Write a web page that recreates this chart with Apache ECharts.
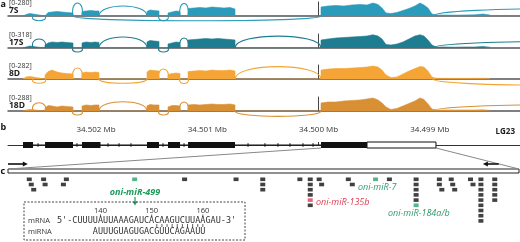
<!DOCTYPE html>
<html>
<head>
<meta charset="utf-8">
<script src="https://cdn.jsdelivr.net/npm/echarts@6/dist/echarts.min.js"></script>
<style>
html, body { margin: 0; padding: 0; background: #fff; }
#chart { width: 520px; height: 242px; }
</style>
</head>
<body>
<div id="chart"></div>
<script>
// positions are bp relative to LG23:34,500,000
var trackNames = ['7S', '17S', '8D', '18D'];
var trackMax = [280, 318, 282, 288];
var trackColors = ['#2a9bba', '#1e7d90', '#f5a536', '#d99035'];

// coverage sample positions, one list per exon
var covPos = [
    [2656, 2629, 2593, 2566],
    [2458, 2431, 2395, 2350, 2306, 2261, 2207],
    [2126, 2090, 2045, 2009, 1973],
    [1542, 1515, 1479, 1434],
    [1353, 1317, 1281, 1245],
    [1173, 1120, 1066, 1012, 958, 904, 851, 796, 751],
    [-22, -84, -156, -228, -300, -372, -435, -489, -534, -570, -606, -650, -704, -758, -812, -866, -911, -947, -983, -1019, -1055, -1136, -1226, -1315, -1405, -1477, -1540]
];
var cov7S = [
    [20, 30, 50, 40],
    [40, 70, 80, 90, 80, 70, 60],
    [90, 100, 110, 100, 100],
    [90, 120, 110, 100],
    [60, 80, 100, 90],
    [150, 160, 170, 160, 180, 170, 160, 170, 140],
    [180, 200, 210, 200, 220, 230, 220, 260, 230, 160, 60, 50, 70, 110, 150, 200, 260, 220, 160, 40, 20, 20, 16, 20, 24, 40, 20]
];
var cov17S = [
    [11, 23, 45, 34],
    [68, 114, 136, 125, 136, 125, 114],
    [114, 136, 125, 136, 125],
    [136, 170, 159, 148],
    [91, 114, 136, 125],
    [182, 193, 204, 216, 204, 216, 204, 193, 182],
    [182, 204, 227, 238, 250, 261, 272, 300, 272, 204, 79, 68, 91, 136, 204, 272, 300, 272, 182, 68, 23, 23, 18, 23, 23, 34, 18]
];
var cov8D = [
    [20, 40, 50, 40],
    [80, 150, 180, 140, 120, 110, 100],
    [120, 140, 130, 140, 130],
    [140, 180, 170, 160],
    [90, 110, 120, 110],
    [150, 160, 170, 160, 180, 170, 170, 180, 160],
    [180, 200, 210, 210, 220, 230, 240, 260, 240, 180, 80, 30, 40, 100, 160, 210, 250, 240, 160, 40, 16, 14, 14, 14, 14, 16, 10]
];
var cov18D = [
    [10, 20, 30, 25],
    [62, 113, 103, 82, 103, 93, 82],
    [103, 124, 113, 124, 124],
    [103, 134, 124, 124],
    [82, 113, 113, 103],
    [124, 134, 124, 134, 144, 134, 134, 144, 124],
    [165, 185, 185, 206, 216, 227, 247, 268, 227, 165, 82, 31, 52, 103, 155, 206, 268, 237, 144, 41, 21, 21, 21, 21, 21, 25, 12]
];
var coverage = [cov7S, cov17S, cov8D, cov18D];

// junctions: [from, to, peak reads] (negative = drawn below the track)
var arcs7S = [[2566, 2458, -94], [2207, 2126, 260], [1973, 1542, 200], [2207, -22, -94], [1434, 1353, -94], [1245, 1173, 250], [-1028, -3500, 150]];
var arcs17S = [[2566, 2458, 204], [2207, 2126, -91], [1973, 1542, 250], [1434, 1353, -91], [1245, 1173, 227], [751, -22, 270], [-1028, -3500, 150]];
var arcs8D = [[2566, 2458, -86], [2207, 2126, 221], [1973, 1542, -86], [1434, 1353, 201], [1245, 1173, -90], [751, -22, 250], [-1028, -3500, -130]];
var arcs18D = [[2566, 2458, 171], [2207, 2126, -82], [1973, 1542, 191], [1434, 1353, -82], [1245, 1173, 185], [751, -22, -110], [-1028, -3500, 130]];
var junctions = [arcs7S, arcs17S, arcs8D, arcs18D];

// gene model: [start, end, utr]
var exons = [[2656, 2566, 0], [2458, 2207, 0], [2126, 1960, 0], [1542, 1434, 0], [1353, 1245, 0], [1173, 751, 0], [-22, -435, 0], [-435, -1055, 1]];
var intronMarks = [2521, 2171, 1892, 1793, 1686, 1398, 1209, 634, 482, 365, 257, 140, 50];
var axisTicks = [2000, 1000, 0, -1000];
var lastExon = [-22, -1055];

// panel c, nt along the last exon
var exonLen = 1033;
var primers = [[0, 40], [992, 960]];
var sitesBlack = [
    [43, 0], [47, 1], [52, 2], [72, 0], [75, 1], [118, 0], [112, 1], [357, 0], [461, 0],
    [515, 0], [515, 1], [515, 2], [590, 0],
    [611, 0], [611, 1], [611, 2], [611, 3], [611, 5],
    [629, 0], [634, 1], [688, 0], [696, 1], [771, 0],
    [825, 0], [825, 1], [825, 2], [825, 3], [825, 4],
    [872, 0], [872, 1], [877, 2], [896, 0], [899, 1], [903, 2], [935, 0], [940, 1],
    [956, 0], [956, 1], [956, 2], [956, 3], [956, 4], [956, 5], [956, 6], [956, 7], [956, 8],
    [984, 0], [984, 1], [984, 2], [984, 3], [984, 4]
];
var sitesGreen = [[256, 0], [743, 0], [825, 5]];
var sitesRed = [[611, 4]];

// inset alignment
var mrnaSeq = "5'-CUUUUAUUAAAGAUCACAAGUCUUAAGAU-3'";
var mrnaFirstPos = 135;   // position of first letter after 5'-
var mirnaSeq = 'AUUUGUAGUGACGUUCAGAAUU';
var mirnaStartPos = 139;
var seqTicks = [140, 150, 160];
var pairedPos = [151, 152, 153, 154, 155, 156, 157, 158, 159, 160];

var baselines = [16, 48, 79, 111];
var trackH = 14;
var SANS = '"Open Sans", "Noto Sans", sans-serif';
var MONO = '"DejaVu Sans Mono", monospace';

var dom = document.getElementById('chart');
var myChart = echarts.init(dom);

function arcItem(color) {
    return function (params, api) {
        var a = api.value(0), b = api.value(1), h = api.value(2);
        var p1 = api.coord([a, 0]), p2 = api.coord([b, 0]);
        var cy = api.coord([a, h / 0.75])[1];
        var w = Math.abs(p2[0] - p1[0]);
        var dir = p2[0] > p1[0] ? 1 : -1;
        var bulge = w < 20 ? 0.35 * w : 0;
        return {
            type: 'bezierCurve',
            shape: {
                x1: p1[0], y1: p1[1], x2: p2[0], y2: p2[1],
                cpx1: p1[0] - dir * bulge, cpy1: cy,
                cpx2: p2[0] + dir * bulge, cpy2: cy
            },
            style: { stroke: color, fill: 'none', lineWidth: 1.1 }
        };
    };
}

var grids = [], xAxes = [], yAxes = [], series = [];

for (var i = 0; i < 4; i++) {
    grids.push({ left: 8, right: 0, top: baselines[i] - trackH, height: trackH });
    xAxes.push({
        type: 'value', gridIndex: i, min: -1810, max: 2791, inverse: true,
        axisLine: { lineStyle: { color: '#555', width: 1.5 } },
        axisTick: { show: false }, axisLabel: { show: false }, splitLine: { show: false }
    });
    yAxes.push({
        type: 'value', gridIndex: i, min: 0, max: trackMax[i],
        axisLine: { show: true, lineStyle: { color: '#444', width: 1 } },
        axisTick: { show: false }, axisLabel: { show: false }, splitLine: { show: false }
    });
    var pts = [];
    for (var e = 0; e < covPos.length; e++) {
        var ps = covPos[e], vs = coverage[i][e];
        pts.push([ps[0], 0]);
        for (var j = 0; j < ps.length; j++) pts.push([ps[j], vs[j]]);
        pts.push([ps[ps.length - 1], 0]);
    }
    series.push({
        type: 'line', xAxisIndex: i, yAxisIndex: i, data: pts,
        showSymbol: false, symbol: 'none', silent: true,
        lineStyle: { width: 0.6, color: trackColors[i] },
        areaStyle: { color: trackColors[i], opacity: 1 }, z: 2
    });
    series.push({
        type: 'custom', xAxisIndex: i, yAxisIndex: i, data: junctions[i],
        renderItem: arcItem(trackColors[i]), clip: false, silent: true, z: 3
    });
}

// panel b
grids.push({ left: 8, right: 0, top: 137, height: 16 });
xAxes.push({
    type: 'value', gridIndex: 4, position: 'top', min: -1810, max: 2791, inverse: true,
    axisLine: { lineStyle: { color: '#333', width: 1 } },
    axisTick: { show: true, length: 3, customValues: axisTicks, lineStyle: { color: '#333' } },
    axisLabel: {
        customValues: axisTicks, margin: 3, fontSize: 8, color: '#333', fontFamily: SANS,
        formatter: function (v) { return ((34500000 + v) / 1e6).toFixed(3) + ' Mb'; }
    },
    splitLine: { show: false }
});
yAxes.push({ type: 'value', gridIndex: 4, min: -1, max: 1, show: false });
series.push({
    type: 'custom', xAxisIndex: 4, yAxisIndex: 4, data: [[exons[0][0], exons[6][0]]],
    clip: false, silent: true, z: 2,
    renderItem: function (params, api) {
        var a = api.coord([api.value(0), 0]), b = api.coord([api.value(1), 0]);
        return { type: 'line', shape: { x1: a[0], y1: a[1], x2: b[0], y2: b[1] }, style: { stroke: '#111', lineWidth: 1 } };
    }
});
series.push({
    type: 'custom', xAxisIndex: 4, yAxisIndex: 4, data: intronMarks.map(function (p) { return [p, 0]; }),
    clip: false, silent: true, z: 2,
    renderItem: function (params, api) {
        var a = api.coord([api.value(0), 0]);
        return { type: 'line', shape: { x1: a[0], y1: a[1] - 1.8, x2: a[0], y2: a[1] + 1.8 }, style: { stroke: '#111', lineWidth: 1 } };
    }
});
series.push({
    type: 'custom', xAxisIndex: 4, yAxisIndex: 4, data: exons, clip: false, silent: true, z: 3,
    renderItem: function (params, api) {
        var a = api.coord([api.value(0), 0]), b = api.coord([api.value(1), 0]);
        var utr = api.value(2) === 1;
        return {
            type: 'rect',
            shape: { x: Math.min(a[0], b[0]), y: a[1] - 3, width: Math.abs(b[0] - a[0]), height: 6 },
            style: { fill: utr ? '#fff' : '#111', stroke: '#111', lineWidth: utr ? 1 : 0 }
        };
    }
});

// panel c box
grids.push({ left: 8, right: 1, top: 169, height: 4, show: true, borderColor: '#222', borderWidth: 1, backgroundColor: '#fff' });
xAxes.push({ type: 'value', gridIndex: 5, min: 0, max: exonLen, show: false });
yAxes.push({ type: 'value', gridIndex: 5, min: 0, max: 1, show: false });
series.push({
    type: 'custom', xAxisIndex: 5, yAxisIndex: 5, data: primers, clip: false, silent: true,
    renderItem: function (params, api) {
        var a = api.coord([api.value(0), 1]), b = api.coord([api.value(1), 1]);
        var y = a[1] - 5;
        var d = b[0] > a[0] ? 1 : -1;
        return {
            type: 'group', children: [
                { type: 'line', shape: { x1: a[0], y1: y, x2: b[0] - d * 3, y2: y }, style: { stroke: '#111', lineWidth: 1.6 } },
                { type: 'polygon', shape: { points: [[b[0], y], [b[0] - d * 5, y - 2.6], [b[0] - d * 5, y + 2.6]] }, style: { fill: '#111' } }
            ]
        };
    }
});

// panel c sites
grids.push({ left: 8, right: 1, top: 176.7, height: 46.8 });
xAxes.push({ type: 'value', gridIndex: 6, min: 0, max: exonLen, show: false });
yAxes.push({ type: 'value', gridIndex: 6, min: -0.5, max: 8.5, inverse: true, show: false });
[[sitesBlack, '#111'], [sitesGreen, '#2aa36c'], [sitesRed, '#e23b55']].forEach(function (s) {
    series.push({
        type: 'scatter', xAxisIndex: 6, yAxisIndex: 6, data: s[0], symbol: 'rect',
        symbolSize: [5, 3.6], itemStyle: { color: s[1] }, silent: true, z: 3
    });
});

function txt(x, y, s, o) {
    o = o || {};
    return {
        type: 'text', x: x, y: y, silent: true,
        style: {
            text: s, fontSize: o.size || 8, fontFamily: o.family || SANS,
            fontWeight: o.weight || 'normal', fontStyle: o.style || 'normal',
            fill: o.color || '#222', align: o.align || 'left', verticalAlign: 'middle'
        }
    };
}

var graphics = [];
graphics.push(txt(0.5, 4.5, 'a', { size: 9, weight: 'bold', color: '#111' }));
graphics.push(txt(0.5, 127.5, 'b', { size: 9, weight: 'bold', color: '#111' }));
graphics.push(txt(0.5, 171, 'c', { size: 9, weight: 'bold', color: '#111' }));
for (var k = 0; k < 4; k++) {
    graphics.push(txt(9, baselines[k] - 12.8, '[0-' + trackMax[k] + ']', { size: 7, color: '#333' }));
    graphics.push(txt(9, baselines[k] - 5, trackNames[k], { size: 8.5, weight: 'bold', color: '#222' }));
}
graphics.push(txt(515, 131.5, 'LG23', { size: 8, weight: 'bold', color: '#222', align: 'right' }));

// miRNA labels
graphics.push(txt(135, 192, 'oni-miR-499', { size: 9, weight: 'bold', style: 'italic', color: '#1f9a5c', align: 'center' }));
graphics.push({ type: 'line', silent: true, shape: { x1: 135, y1: 197, x2: 135, y2: 202 }, style: { stroke: '#1f9a5c', lineWidth: 1.2 } });
graphics.push({ type: 'polygon', silent: true, shape: { points: [[135, 205.5], [132.6, 201.5], [137.4, 201.5]] }, style: { fill: '#1f9a5c' } });
graphics.push(txt(358, 187, 'oni-miR-7', { size: 9, style: 'italic', color: '#2e9c6c' }));
graphics.push(txt(316, 202.5, 'oni-miR-135b', { size: 9, style: 'italic', color: '#dd3a52' }));
graphics.push(txt(388, 213.5, 'oni-miR-184a/b', { size: 9, style: 'italic', color: '#2e9c6c' }));

// inset with the alignment
graphics.push({
    type: 'rect', silent: true, shape: { x: 24, y: 202, width: 221, height: 38 },
    style: { fill: 'none', stroke: '#444', lineWidth: 1, lineDash: [2, 1.5] }
});
var ctx = document.createElement('canvas').getContext('2d');
var monoSize = 8.5;
ctx.font = monoSize + 'px ' + MONO;
var cw = ctx.measureText('M').width;
var seqX = 57;
function charCenter(pos) { return seqX + (pos - mrnaFirstPos + 3 + 0.5) * cw; }
graphics.push(txt(28, 220.5, 'mRNA', { size: 7.5, color: '#333' }));
graphics.push(txt(28, 231.5, 'miRNA', { size: 7.5, color: '#333' }));
graphics.push(txt(seqX, 220.5, mrnaSeq, { size: monoSize, family: MONO, color: '#333' }));
graphics.push(txt(seqX + (mirnaStartPos - mrnaFirstPos + 3) * cw, 231.5, mirnaSeq, { size: monoSize, family: MONO, color: '#333' }));
seqTicks.forEach(function (p) {
    var x = charCenter(p);
    graphics.push(txt(x, 210.5, String(p), { size: 7.5, color: '#333', align: 'center' }));
    graphics.push({ type: 'line', silent: true, shape: { x1: x, y1: 214.5, x2: x, y2: 217 }, style: { stroke: '#333', lineWidth: 0.8 } });
});
pairedPos.forEach(function (p) {
    var x = charCenter(p);
    graphics.push({ type: 'line', silent: true, shape: { x1: x, y1: 224, x2: x, y2: 227 }, style: { stroke: '#333', lineWidth: 0.8 } });
});

var option = {
    animation: false,
    grid: grids,
    xAxis: xAxes,
    yAxis: yAxes,
    series: series,
    graphic: { elements: graphics }
};
myChart.setOption(option);

// zoom lines from the last exon to panel c
var g1 = myChart.convertToPixel({ xAxisIndex: 4, yAxisIndex: 4 }, [lastExon[0], 0]);
var g2 = myChart.convertToPixel({ xAxisIndex: 4, yAxisIndex: 4 }, [lastExon[1], 0]);
var c1 = myChart.convertToPixel({ xAxisIndex: 5, yAxisIndex: 5 }, [0, 1]);
var c2 = myChart.convertToPixel({ xAxisIndex: 5, yAxisIndex: 5 }, [exonLen, 1]);
graphics.push({ type: 'line', silent: true, shape: { x1: g1[0], y1: g1[1] + 3, x2: c1[0], y2: c1[1] }, style: { stroke: '#888', lineWidth: 1 } });
graphics.push({ type: 'line', silent: true, shape: { x1: g2[0], y1: g2[1] + 3, x2: c2[0], y2: c2[1] }, style: { stroke: '#888', lineWidth: 1 } });
myChart.setOption({ graphic: { elements: graphics } });
</script>
</body>
</html>
